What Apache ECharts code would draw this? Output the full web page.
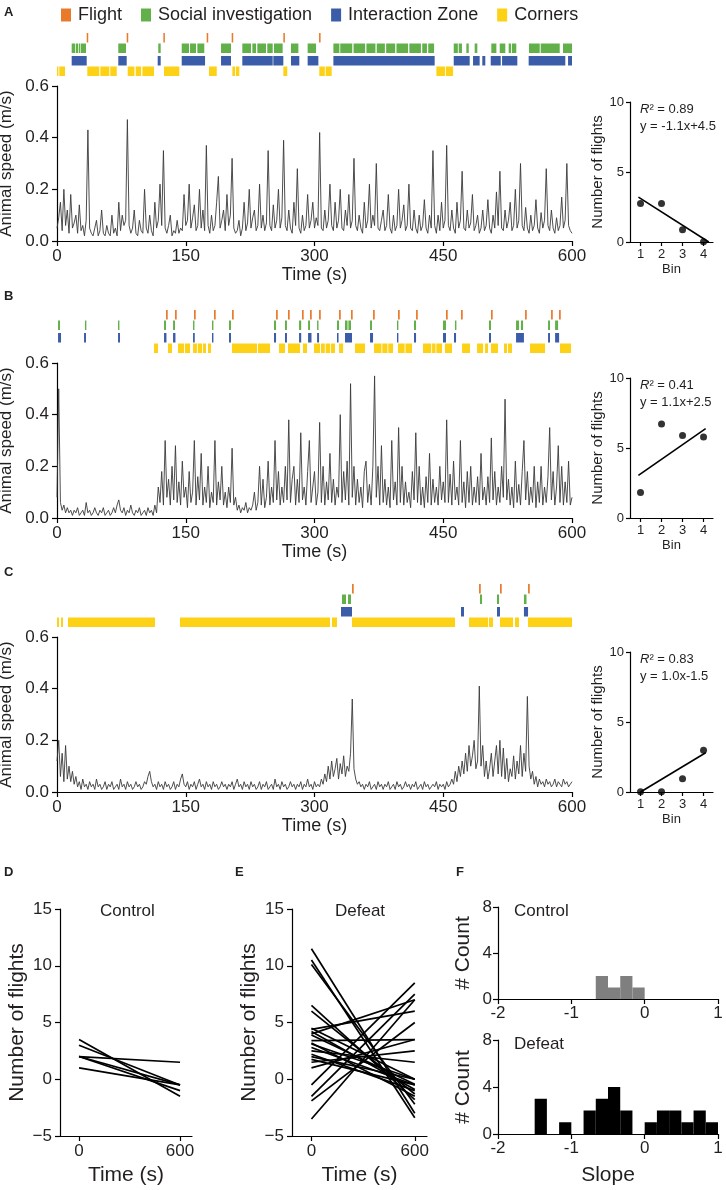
<!DOCTYPE html>
<html><head><meta charset="utf-8">
<script src="https://cdn.jsdelivr.net/npm/echarts@6/dist/echarts.min.js"></script>
<style>html,body{margin:0;padding:0;background:#fff}#c{width:726px;height:1190px}</style>
</head><body><div id="c"></div>
<script>
// ---------- DATA ----------
const timeTicks = [0, 150, 300, 450, 600];
const speedStep = 2; // seconds between samples
const speedA = [
.05,.09,.15,.04,.20,.06,.12,.03,.18,.05,
.07,.10,.03,.14,.04,.06,.02,.08,.43,.05,
.03,.02,.05,.08,.02,.04,.12,.03,.02,.06,
.03,.02,.10,.03,.05,.02,.15,.04,.10,.06,
.08,.47,.06,.03,.05,.12,.03,.02,.08,.04,
.03,.20,.05,.03,.10,.04,.02,.15,.05,.08,
.22,.06,.35,.05,.03,.06,.10,.02,.04,.03,
.08,.03,.05,.04,.18,.06,.08,.22,.05,.09,
.14,.04,.06,.20,.05,.12,.04,.37,.06,.03,
.10,.04,.06,.15,.25,.05,.08,.12,.04,.18,
.06,.10,.32,.05,.03,.04,.08,.02,.05,.15,
.04,.07,.20,.05,.09,.12,.04,.06,.22,.05,
.10,.04,.07,.35,.06,.04,.14,.05,.08,.20,
.05,.09,.39,.06,.04,.12,.05,.03,.15,.06,
.28,.05,.03,.10,.04,.06,.18,.05,.08,.15,
.05,.09,.06,.42,.05,.04,.12,.05,.08,.22,
.06,.04,.15,.05,.08,.20,.05,.04,.12,.06,
.18,.05,.08,.32,.06,.04,.10,.05,.03,.15,
.05,.08,.22,.05,.10,.06,.30,.05,.04,.08,
.12,.04,.06,.18,.05,.03,.10,.04,.06,.20,
.05,.08,.14,.04,.06,.22,.05,.04,.12,.05,
.03,.10,.04,.06,.16,.05,.03,.10,.05,.35,
.06,.03,.10,.04,.15,.05,.08,.37,.06,.04,
.12,.05,.03,.15,.05,.08,.27,.05,.04,.12,
.05,.07,.18,.04,.06,.10,.03,.05,.12,.04,
.06,.16,.05,.03,.10,.05,.19,.06,.27,.05,
.04,.12,.05,.08,.15,.04,.06,.20,.05,.08,
.30,.06,.04,.13,.05,.03,.10,.04,.06,.16,
.05,.03,.11,.05,.08,.28,.06,.04,.12,.05,
.03,.09,.04,.06,.17,.05,.08,.30,.06,.04,
.03];
const speedB = [
.08,.50,.06,.03,.05,.02,.04,.02,.03,.01,
.03,.02,.04,.01,.02,.03,.01,.06,.02,.03,
.01,.02,.04,.02,.01,.03,.02,.04,.01,.02,
.03,.01,.02,.04,.02,.05,.07,.03,.02,.04,
.01,.03,.02,.05,.02,.01,.03,.02,.04,.01,
.02,.03,.01,.04,.02,.03,.01,.05,.02,.12,
.06,.18,.05,.30,.08,.15,.05,.20,.07,.28,
.06,.14,.05,.22,.08,.12,.04,.18,.06,.10,
.30,.05,.16,.07,.25,.05,.12,.06,.20,.04,
.10,.06,.30,.05,.14,.07,.20,.05,.10,.04,
.12,.06,.27,.05,.08,.03,.05,.02,.04,.03,
.06,.02,.04,.03,.05,.10,.03,.06,.20,.05,
.15,.04,.08,.22,.05,.12,.06,.30,.07,.18,
.05,.12,.06,.20,.07,.38,.06,.15,.20,.05,
.15,.06,.33,.07,.12,.05,.18,.30,.06,.12,
.18,.05,.10,.37,.06,.20,.05,.14,.07,.25,
.06,.15,.05,.12,.08,.40,.06,.18,.07,.22,
.05,.52,.08,.20,.05,.15,.06,.12,.04,.18,
.22,.06,.13,.05,.20,.55,.08,.20,.05,.28,
.06,.15,.05,.12,.04,.30,.07,.14,.05,.35,
.06,.20,.05,.14,.06,.10,.04,.18,.07,.33,
.06,.20,.05,.12,.04,.16,.06,.25,.05,.15,
.06,.12,.05,.20,.07,.14,.06,.38,.06,.17,
.05,.22,.07,.12,.05,.30,.06,.14,.04,.18,
.06,.20,.05,.12,.06,.16,.05,.25,.07,.12,
.05,.16,.06,.31,.07,.18,.05,.12,.06,.20,
.08,.46,.07,.15,.05,.12,.04,.22,.06,.13,
.05,.18,.30,.07,.18,.05,.12,.06,.20,.04,
.14,.06,.20,.05,.12,.06,.16,.35,.07,.18,
.05,.12,.28,.06,.20,.05,.14,.06,.22,.05,
.08];
const speedC = [
.12,.20,.06,.15,.04,.18,.05,.10,.04,.08,
.03,.06,.02,.04,.01,.05,.02,.03,.01,.04,
.02,.03,.01,.05,.02,.03,.01,.02,.04,.01,
.03,.02,.04,.01,.02,.03,.01,.05,.02,.03,
.01,.04,.02,.03,.01,.02,.04,.02,.03,.01,
.02,.04,.03,.06,.08,.04,.02,.03,.01,.04,
.02,.03,.01,.04,.02,.03,.01,.02,.04,.01,
.03,.02,.05,.07,.03,.02,.04,.01,.03,.02,
.04,.01,.03,.05,.02,.03,.01,.04,.02,.03,
.01,.04,.02,.03,.01,.02,.04,.02,.03,.01,
.03,.02,.04,.01,.03,.05,.02,.03,.01,.04,
.02,.03,.01,.04,.02,.03,.01,.02,.04,.01,
.03,.02,.04,.01,.02,.03,.01,.05,.02,.03,
.01,.04,.02,.03,.01,.02,.04,.02,.03,.01,
.03,.02,.04,.01,.03,.02,.05,.02,.03,.01,
.04,.02,.03,.02,.05,.03,.07,.04,.10,.05,
.12,.06,.09,.13,.05,.11,.07,.14,.06,.10,
.08,.15,.36,.09,.05,.03,.04,.02,.03,.01,
.03,.02,.04,.01,.02,.03,.01,.04,.02,.03,
.01,.03,.02,.04,.01,.02,.03,.01,.04,.02,
.03,.01,.02,.04,.02,.03,.01,.03,.02,.04,
.01,.02,.03,.01,.04,.02,.03,.01,.02,.03,
.02,.04,.01,.03,.02,.03,.01,.04,.02,.03,
.05,.03,.08,.04,.10,.06,.12,.07,.15,.08,
.18,.10,.14,.20,.09,.12,.41,.10,.18,.06,
.12,.05,.09,.15,.06,.12,.18,.07,.20,.06,
.17,.05,.13,.04,.09,.06,.14,.05,.12,.07,
.18,.06,.15,.08,.37,.10,.05,.08,.03,.06,
.02,.05,.03,.04,.02,.05,.03,.04,.02,.03,
.05,.02,.04,.03,.02,.05,.03,.04,.02,.03,
.04];

// behaviour episodes [start s, end s]
const flightA = [[34.6,36.4],[81.2,83],[123.9,125.7],[174.4,176.2],[203.5,205.3],[263.7,265.5],[305.3,307.1]];
const socialA = [[17.1,21.3],[22.1,24.5],[25.3,26.8],[27.6,33.8],[71.4,80.4],[118,120.8],[145.3,153.8],[155,162],[163.5,171.6],[191.1,202.7],[215.9,226],[227.6,231.9],[233.4,243.5],[245,251.3],[252.8,262.9],[272.6,281.2],[292,301.8],[322,329],[330,344],[345.5,359],[360.5,371],[372.5,382],[383.5,394],[395.5,409],[410.5,424],[425.5,431],[432.5,439.3],[462.2,467],[468,471.8],[476.9,479.7],[486.6,489.7],[506,511.9],[515.8,522.3],[526.2,529],[530,535.1],[549.9,562.4],[563.5,585.7],[589.5,600]];
const zoneA = [[17.1,34.6],[71.4,81.2],[117.3,120.8],[145.3,172.5],[191.1,202.7],[215.9,251.3],[252,263.7],[272.6,282.3],[292,304.5],[322,440],[462.2,480.8],[484.7,492.4],[495.5,499],[505.3,517],[518.5,536.3],[549.5,592.2],[595.4,600]];
const cornersA = [[0,0.4],[2.7,9.3],[35.3,49.3],[50.5,61],[62.1,69.6],[82.4,90.2],[91.7,98],[99.5,113],[124.7,142.5],[177.1,186.1],[204.3,207.5],[208.5,212.4],[263.7,268.3],[305.6,312],[313,320],[442,452],[453,461.4]];

const flightB = [[127,129],[137.5,139.5],[159.6,161.6],[182.9,184.9],[203.9,205.9],[255.2,257.2],[269.1,271.1],[285.4,287.4],[294.8,296.8],[305.3,307.3],[328.6,330.6],[342.5,344.5],[368.2,370.2],[397.3,399.3],[418.3,420.3],[453.2,455.2],[470.7,472.7],[505.6,507.6],[545.3,547.3],[575.6,577.6],[584.9,586.9]];
const socialB = [[1.2,3.5],[32.6,33.8],[71.1,72.3],[124.7,127],[135.2,137.5],[158.5,159.6],[180.6,181.8],[200.4,202.7],[252.8,255.2],[265.6,267.9],[282,284.5],[292.5,294.8],[303,304.1],[326.2,328.6],[335.5,338.5],[339.5,342.5],[364.7,367],[396.1,397.3],[415.9,418.3],[449.7,453.2],[463.7,464.9],[503.3,505.6],[534.8,538.3],[540.6,543],[572.1,574.4],[580.3,583.8]];
const zoneB = [[1.2,4.7],[31.5,33.8],[71.1,73.4],[124.7,127.5],[135.2,138],[158.5,160.5],[180.6,182],[200.4,202.7],[252.8,255.2],[265.6,267.9],[282,284.5],[292.5,296.5],[303,305.3],[326.2,328],[335.5,343.7],[364.7,368.2],[396.1,397.3],[415.9,418.3],[449.7,453.2],[462.5,464.9],[503.3,505.6],[534.8,544],[572.1,574.4],[580.3,585]];
const cornersB = [[113,117.7],[129.3,134],[141,148],[149.1,155],[158.5,163],[164,169],[170.1,173.6],[175.9,179.4],[203.9,233],[234.2,248.2],[258.7,265.6],[269.1,283.1],[286.6,291.3],[299.4,306.4],[307.6,312],[313,318],[319,323.9],[328.6,333.3],[347.2,358.8],[369.3,378],[379,385],[386,391.5],[397.3,405],[406,413.6],[426.4,436],[437,441],[442,448.6],[452,460.2],[471.9,481.2],[489.4,496.4],[498.7,502.2],[505.6,513.8],[520.8,524.3],[525.5,530.1],[551.1,568.6],[586,598.9]];

const flightC = [[343.7,345.7],[491.7,493.7],[516.1,518.1],[548.8,550.8]];
const socialC = [[332,336.7],[339,342.5],[492.8,495.2],[512.6,515],[544,547]];
const zoneC = [[330.9,343.7],[470.7,474.2],[512.6,516.1],[544,548.8]];
const cornersC = [[0,2.3],[4.7,7],[12.8,114.2],[143.3,318.1],[320.4,326.2],[343.7,463.7],[480,502.2],[503.3,508],[516.1,531.3],[533.6,538.3],[548.8,600]];

// flights per bin
const bins = [1, 2, 3, 4];
const binFlightsA = [2.75, 2.75, 0.88, 0.02];
const binFlightsB = [1.83, 6.71, 5.9, 5.79];
const binFlightsC = [0.02, 0.02, 0.95, 2.98];
const fitLineA = [[0.9, 3.2], [4.25, 0]];
const fitLineB = [[0.9, 3.05], [4.1, 6.38]];
const fitLineC = [[1.0, 0], [4.1, 2.8]];
const fitR2 = ['0.89', '0.41', '0.83'];
const fitEq = ['y = -1.1x+4.5', 'y = 1.1x+2.5', 'y = 1.0x-1.5'];

// per-animal fitted lines: value at 0 s and at 600 s
const lineTimes = [0, 600];
const controlStart = [3.5, 3.0, 2.0, 2.0, 2.0, 1.0];
const controlEnd = [-1.5, -0.5, -1.0, -0.5, 1.5, -0.5];
const defeatStart = [11.5, 10.5, 10.1, 6.5, 6.0, 4.4, 4.2, 4.0, 3.9, 3.4, 3.1, 2.8, 2.5, 2.2, 2.0, 1.75, 1.5, 1.0, -0.5, -1.5, -1.9, -3.5, 3.2, 4.5];
const defeatEnd = [-3.0, -3.4, -2.2, -1.8, -1.3, 6.0, -0.9, 7.0, -0.45, 3.5, 0.0, -0.5, 1.5, -1.0, 0.0, -0.5, 2.5, 3.5, 8.5, 7.5, 5.0, 7.0, -1.5, 0.0];

// slope histograms
const slopeEdges = [-1.5,-1.3333,-1.1667,-1,-0.8333,-0.6667,-0.5,-0.3333,-0.1667,0,0.1667,0.3333,0.5,0.6667,0.8333,1];
const controlCounts = [0,0,0,0,0,2,1,2,1,0,0,0,0,0,0];
const defeatCounts = [3,0,1,0,2,3,4,2,0,1,2,2,1,2,1];

// ---------- STYLE ----------
const FONT = '"Liberation Sans", Arial, sans-serif';
const TXT = '#231f20';
const EVENTS = [
  {name:'Flight', color:'#E97A2C', band:[33.5,43]},
  {name:'Social investigation', color:'#62B04A', band:[23,32.5]},
  {name:'Interaction Zone', color:'#3B5CA8', band:[10.5,20]},
  {name:'Corners', color:'#FDD116', band:[0,9.5]}
];
const grids = [], xAxes = [], yAxes = [], series = [], graphics = [];
function addGrid(g){ grids.push(Object.assign({outerBoundsMode:'none', containLabel:false, show:false}, g)); return grids.length - 1; }
const AL = {show:true, onZero:false, lineStyle:{color:'#000', width:1.2}};
function tick(len){ return {show:true, length:len, lineStyle:{color:'#000', width:1.2}}; }
function lab(size, margin, extra){ return Object.assign({color:TXT, fontSize:size, fontFamily:FONT, margin:margin}, extra||{}); }
function nameStyle(size){ return {color:TXT, fontSize:size, fontFamily:FONT}; }
function text(x, y, str, size, opts){
  graphics.push({type:'text', x:x, y:y, silent:true, style:Object.assign({text:str, fontSize:size, fontFamily:FONT, fill:TXT, textVerticalAlign:'middle'}, opts||{})});
}

const tracePanels = [
  {top:86, speed:speedA, ev:[flightA, socialA, zoneA, cornersA], sTop:102, pts:binFlightsA, fit:fitLineA},
  {top:363, speed:speedB, ev:[flightB, socialB, zoneB, cornersB], sTop:378, pts:binFlightsB, fit:fitLineB},
  {top:637, speed:speedC, ev:[flightC, socialC, zoneC, cornersC], sTop:652, pts:binFlightsC, fit:fitLineC}
];

tracePanels.forEach(function(p, pi){
  const ge = addGrid({left:57, top:p.top - 54, width:515, height:44});
  xAxes.push({gridIndex:ge, type:'value', min:0, max:600, show:false});
  yAxes.push({gridIndex:ge, type:'value', min:0, max:44, show:false});
  const exi = xAxes.length - 1, eyi = yAxes.length - 1;
  EVENTS.forEach(function(ev, k){
    series.push({
      type:'custom', name:ev.name, xAxisIndex:exi, yAxisIndex:eyi, silent:true, clip:false,
      itemStyle:{color:ev.color}, data:p.ev[k],
      renderItem:function(params, api){
        const a = api.coord([api.value(0), ev.band[1]]);
        const b = api.coord([api.value(1), ev.band[0]]);
        return {type:'rect', shape:{x:a[0], y:a[1], width:Math.max(b[0]-a[0], 1.4), height:b[1]-a[1]}, style:{fill:ev.color}};
      }
    });
  });
  const gt = addGrid({left:57, top:p.top, width:515, height:155});
  xAxes.push({gridIndex:gt, type:'value', min:0, max:600, interval:150,
    name:'Time (s)', nameLocation:'middle', nameGap:25, nameTextStyle:nameStyle(18),
    axisLine:AL, axisTick:tick(5), axisLabel:lab(17, 7), splitLine:{show:false}});
  yAxes.push({gridIndex:gt, type:'value', min:0, max:0.6, interval:0.2,
    name:'Animal speed (m/s)', nameLocation:'middle', nameGap:36, nameTextStyle:nameStyle(17),
    axisLine:AL, axisTick:tick(5), axisLabel:lab(17, 8, {formatter:function(v){return v.toFixed(1);}}), splitLine:{show:false}});
  series.push({type:'line', xAxisIndex:xAxes.length-1, yAxisIndex:yAxes.length-1, silent:true,
    data:p.speed.map(function(v,i){return [i*speedStep, v];}), showSymbol:false, symbol:'none',
    lineStyle:{color:'#3a3a3a', width:0.9}});
  const gs = addGrid({left:630, top:p.sTop, width:83, height:140});
  xAxes.push({gridIndex:gs, type:'value', min:0.5, max:4.45,
    name:'Bin', nameLocation:'middle', nameGap:21, nameTextStyle:nameStyle(13),
    axisLine:AL, axisTick:Object.assign(tick(4), {customValues:bins}),
    axisLabel:lab(13, 6, {customValues:bins}), splitLine:{show:false}});
  yAxes.push({gridIndex:gs, type:'value', min:0, max:10, interval:5,
    name:'Number of flights', nameLocation:'middle', nameGap:20, nameTextStyle:nameStyle(15),
    axisLine:AL, axisTick:tick(4), axisLabel:lab(13, 6), splitLine:{show:false}});
  series.push({type:'scatter', xAxisIndex:xAxes.length-1, yAxisIndex:yAxes.length-1, silent:true,
    data:bins.map(function(b,i){return [b, p.pts[i]];}), symbolSize:7, itemStyle:{color:'#000'}});
  series.push({type:'line', xAxisIndex:xAxes.length-1, yAxisIndex:yAxes.length-1, silent:true,
    data:p.fit, showSymbol:false, symbol:'none', lineStyle:{color:'#000', width:1.6}});
  text(640, p.sTop + 7, '{i|R}² = ' + fitR2[pi], 13, {rich:{i:{fontStyle:'italic', fontSize:13, fontFamily:FONT}}});
  text(640, p.sTop + 24, fitEq[pi], 13);
});

function linePanel(left, width, starts, ends, title, tx){
  const g = addGrid({left:left, top:909, width:width, height:227});
  xAxes.push({gridIndex:g, type:'value', min:-113, max:671,
    name:'Time (s)', nameLocation:'middle', nameGap:29, nameTextStyle:nameStyle(21),
    axisLine:AL, axisTick:Object.assign(tick(5), {customValues:lineTimes}),
    axisLabel:lab(17, 7, {customValues:lineTimes}), splitLine:{show:false}});
  yAxes.push({gridIndex:g, type:'value', min:-5, max:15, interval:5,
    name:'Number of flights', nameLocation:'middle', nameGap:32, nameTextStyle:nameStyle(21),
    axisLine:AL, axisTick:tick(5), axisLabel:lab(17, 8, {formatter:function(v){return v<0?'\u2212'+Math.abs(v):String(v);}}), splitLine:{show:false}});
  starts.forEach(function(s, i){
    series.push({type:'line', xAxisIndex:xAxes.length-1, yAxisIndex:yAxes.length-1, silent:true,
      data:[[lineTimes[0], s],[lineTimes[1], ends[i]]], showSymbol:false, symbol:'none',
      lineStyle:{color:'#000', width:1.7}});
  });
  text(tx, 911, title, 17);
}
linePanel(60, 132, controlStart, controlEnd, 'Control', 100);
linePanel(292, 135, defeatStart, defeatEnd, 'Defeat', 335);

function histPanel(top, height, counts, color, title, showName){
  const g = addGrid({left:498, top:top, width:220, height:height});
  xAxes.push({gridIndex:g, type:'value', min:-2, max:1, interval:1,
    name: showName ? 'Slope' : '', nameLocation:'middle', nameGap:31, nameTextStyle:nameStyle(21),
    axisLine:AL, axisTick:tick(5), axisLabel:lab(17, 6), splitLine:{show:false}});
  yAxes.push({gridIndex:g, type:'value', min:0, max:8, interval:4,
    name:'# Count', nameLocation:'middle', nameGap:24, nameTextStyle:nameStyle(21),
    axisLine:AL, axisTick:tick(5), axisLabel:lab(17, 6), splitLine:{show:false}});
  const data = [];
  counts.forEach(function(c, i){ if (c > 0) data.push([slopeEdges[i], slopeEdges[i+1], c]); });
  series.push({type:'custom', xAxisIndex:xAxes.length-1, yAxisIndex:yAxes.length-1, silent:true, data:data,
    renderItem:function(params, api){
      const a = api.coord([api.value(0), api.value(2)]);
      const b = api.coord([api.value(1), 0]);
      return {type:'rect', shape:{x:a[0], y:a[1], width:b[0]-a[0], height:b[1]-a[1]}, style:{fill:color}};
    }});
  text(514, top + 4, title, 17);
}
histPanel(907, 92, controlCounts, '#7f7f7f', 'Control', false);
histPanel(1040, 94, defeatCounts, '#000000', 'Defeat', true);

[['A',4,12],['B',4,296],['C',4,572],['D',4,872],['E',235,872],['F',456,872]].forEach(function(l){
  text(l[1], l[2], l[0], 13, {fontWeight:'bold'});
});

const chart = echarts.init(document.getElementById('c'), null, {renderer:'canvas', width:726, height:1190});
chart.setOption({
  animation:false,
  backgroundColor:'#fff',
  textStyle:{fontFamily:FONT},
  legend:{left:56, top:1, icon:'rect', itemWidth:10, itemHeight:13, itemGap:19, selectedMode:false,
    textStyle:{fontSize:18, color:TXT, fontFamily:FONT, padding:[0,0,0,2]},
    data:EVENTS.map(function(e){return {name:e.name, itemStyle:{color:e.color}};})},
  grid:grids, xAxis:xAxes, yAxis:yAxes, series:series, graphic:graphics
});
</script></body></html>
